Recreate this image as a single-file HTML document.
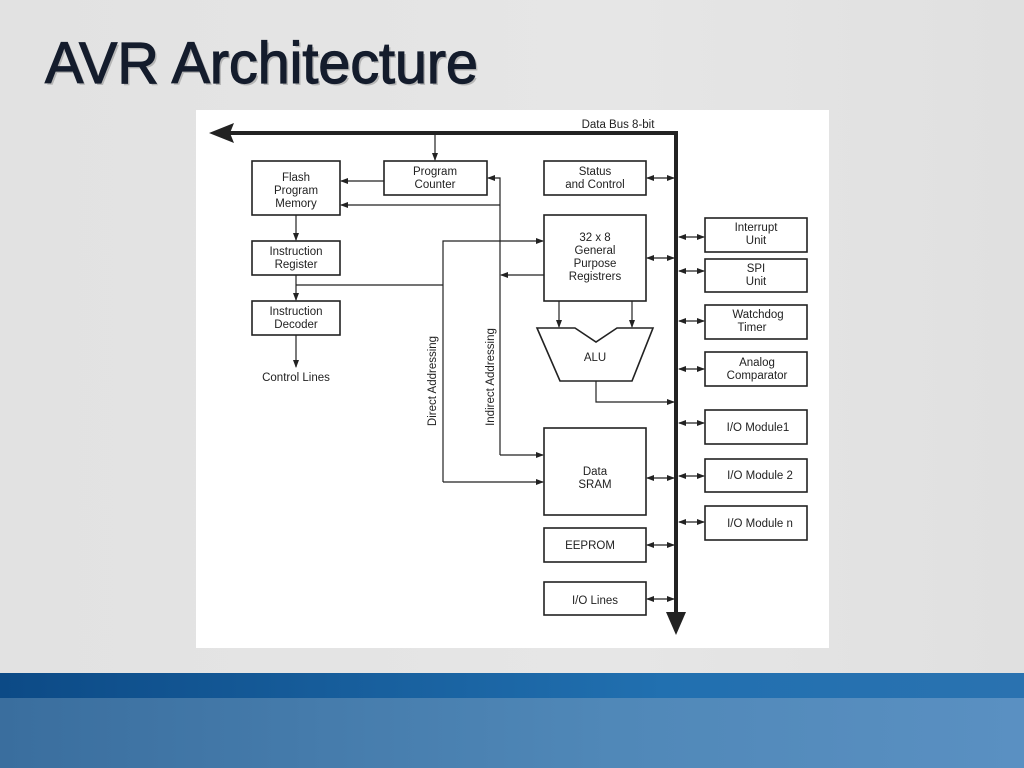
<!DOCTYPE html>
<html><head><meta charset="utf-8"><style>
html,body{margin:0;padding:0;width:1024px;height:768px;overflow:hidden;background:#e3e3e3}
svg{display:block}
text{font-family:"Liberation Sans",sans-serif;fill:#222}
</style></head><body>
<svg width="1024" height="768" viewBox="0 0 1024 768" xmlns="http://www.w3.org/2000/svg">
<defs>
<linearGradient id="bg" x1="0" y1="0" x2="1" y2="0"><stop offset="0" stop-color="#e2e2e2"/><stop offset="0.6" stop-color="#e6e6e6"/><stop offset="1" stop-color="#e0e0e0"/></linearGradient>
<linearGradient id="b1" x1="0" y1="0" x2="1" y2="0"><stop offset="0" stop-color="#0c4a86"/><stop offset="0.65" stop-color="#2170b0"/><stop offset="1" stop-color="#2a72b0"/></linearGradient>
<linearGradient id="b2" x1="0" y1="0" x2="1" y2="0"><stop offset="0" stop-color="#3a6e9e"/><stop offset="0.6" stop-color="#5088b8"/><stop offset="1" stop-color="#5a90c2"/></linearGradient>
<marker id="a" markerWidth="8" markerHeight="8" refX="7" refY="4" orient="auto" markerUnits="userSpaceOnUse"><path d="M0,1 L8,4 L0,7 Z" fill="#222"/></marker>
<marker id="s" markerWidth="8" markerHeight="8" refX="1" refY="4" orient="auto" markerUnits="userSpaceOnUse"><path d="M8,1 L0,4 L8,7 Z" fill="#222"/></marker>
</defs>
<rect width="1024" height="673" fill="url(#bg)"/>
<rect y="673" width="1024" height="25" fill="url(#b1)"/>
<rect y="698" width="1024" height="70" fill="url(#b2)"/>
<text x="47" y="85" font-size="58" textLength="433" lengthAdjust="spacingAndGlyphs" style="fill:#888;opacity:0.5">AVR Architecture</text>
<text x="45" y="83" font-size="58" textLength="433" lengthAdjust="spacingAndGlyphs" style="fill:#141c2c;stroke:#141c2c;stroke-width:1.2">AVR Architecture</text>
<rect x="196" y="110" width="633" height="538" fill="#fff"/>
<g stroke="#222" fill="none" stroke-width="1.2">
<path d="M225,133 H676 V618" stroke-width="4"/>
<rect x="252" y="161" width="88" height="54" stroke-width="1.6"/>
<rect x="384" y="161" width="103" height="34" stroke-width="1.6"/>
<rect x="252" y="241" width="88" height="34" stroke-width="1.6"/>
<rect x="252" y="301" width="88" height="34" stroke-width="1.6"/>
<rect x="544" y="161" width="102" height="34" stroke-width="1.6"/>
<rect x="544" y="215" width="102" height="86" stroke-width="1.6"/>
<rect x="544" y="428" width="102" height="87" stroke-width="1.6"/>
<rect x="544" y="528" width="102" height="34" stroke-width="1.6"/>
<rect x="544" y="582" width="102" height="33" stroke-width="1.6"/>
<rect x="705" y="218" width="102" height="34" stroke-width="1.6"/>
<rect x="705" y="259" width="102" height="33" stroke-width="1.6"/>
<rect x="705" y="305" width="102" height="34" stroke-width="1.6"/>
<rect x="705" y="352" width="102" height="34" stroke-width="1.6"/>
<rect x="705" y="410" width="102" height="34" stroke-width="1.6"/>
<rect x="705" y="459" width="102" height="33" stroke-width="1.6"/>
<rect x="705" y="506" width="102" height="34" stroke-width="1.6"/>
<path d="M537,328 H575 L596,342 L617,328 H653 L632,381 H560 Z" stroke-width="1.6"/>
<path d="M435,133 V160" marker-end="url(#a)"/>
<path d="M384,181 H341" marker-end="url(#a)"/>
<path d="M500,205 H341" marker-end="url(#a)"/>
<path d="M296,215 V240" marker-end="url(#a)"/>
<path d="M296,275 V300" marker-end="url(#a)"/>
<path d="M296,335 V367" marker-end="url(#a)"/>
<path d="M296,285 H443"/>
<path d="M500,455 V178 H488" marker-end="url(#a)"/>
<path d="M500,455 H543" marker-end="url(#a)"/>
<path d="M544,275 H501" marker-end="url(#a)"/>
<path d="M443,482 V241 H543" marker-end="url(#a)"/>
<path d="M443,482 H543" marker-end="url(#a)"/>
<path d="M559,301 V327" marker-end="url(#a)"/>
<path d="M632,301 V327" marker-end="url(#a)"/>
<path d="M596,381 V402 H674" marker-end="url(#a)"/>
<g marker-start="url(#s)" marker-end="url(#a)">
<path d="M647,178 H674"/><path d="M647,258 H674"/><path d="M647,478 H674"/><path d="M647,545 H674"/><path d="M647,599 H674"/>
<path d="M679,237 H704"/><path d="M679,271 H704"/><path d="M679,321 H704"/><path d="M679,369 H704"/><path d="M679,423 H704"/><path d="M679,476 H704"/><path d="M679,522 H704"/>
</g>
</g>
<path d="M209,133 L234,123 L230,133 L234,143 Z" fill="#222"/>
<path d="M666,612 L686,612 L676,635 Z" fill="#222"/>
<g font-size="11.5" text-anchor="middle">
<text x="618" y="128">Data Bus 8-bit</text>
<text x="296" y="181">Flash</text><text x="296" y="194">Program</text><text x="296" y="207">Memory</text>
<text x="435" y="175">Program</text><text x="435" y="188">Counter</text>
<text x="296" y="255">Instruction</text><text x="296" y="268">Register</text>
<text x="296" y="315">Instruction</text><text x="296" y="328">Decoder</text>
<text x="296" y="381">Control Lines</text>
<text x="595" y="175">Status</text><text x="595" y="188">and Control</text>
<text x="595" y="241">32 x 8</text><text x="595" y="254">General</text><text x="595" y="267">Purpose</text><text x="595" y="280">Registrers</text>
<text x="595" y="361">ALU</text>
<text x="595" y="475">Data</text><text x="595" y="488">SRAM</text>
<text x="590" y="549">EEPROM</text>
<text x="595" y="604">I/O Lines</text>
<text x="756" y="231">Interrupt</text><text x="756" y="244">Unit</text>
<text x="756" y="272">SPI</text><text x="756" y="285">Unit</text>
<text x="758" y="318">Watchdog</text><text x="752" y="331">Timer</text>
<text x="757" y="366">Analog</text><text x="757" y="379">Comparator</text>
<text x="758" y="431">I/O Module1</text>
<text x="760" y="479">I/O Module 2</text>
<text x="760" y="527">I/O Module n</text>
<text transform="translate(436,381) rotate(-90)">Direct Addressing</text>
<text transform="translate(494,377) rotate(-90)">Indirect Addressing</text>
</g>
</svg>
</body></html>
